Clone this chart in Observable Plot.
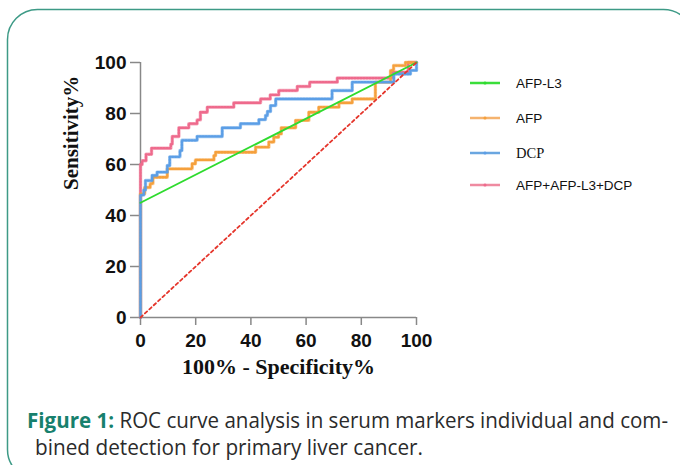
<!DOCTYPE html>
<html><head><meta charset="utf-8">
<script src="https://cdn.jsdelivr.net/npm/d3@7"></script>
<script src="https://cdn.jsdelivr.net/npm/@observablehq/plot@0.6"></script>
<style>
body{margin:0;background:#fff}
#wrap{position:relative;width:680px;height:465px;overflow:hidden;background:#fff}
#chart{position:absolute;left:0;top:0}
#overlay{position:absolute;left:0;top:0;pointer-events:none}
</style>
</head><body>
<div id="wrap"><div id="chart"></div><svg id="overlay" width="680" height="465"></svg></div>
<script>
// ---- data ----
const xTicks = [0, 20, 40, 60, 80, 100];
const yTicks = [0, 20, 40, 60, 80, 100];
const seriesNames = ["AFP-L3", "AFP", "DCP", "AFP+AFP-L3+DCP"];

const afpL3Fpr = [0, 100];
const afpL3Tpr = [45, 100];

const afpFpr = [0, 0, 1.5, 3.5, 4.5, 9.7, 18.7, 19.9, 26.6, 27.2, 41.7, 46.5, 48.3, 50, 51, 56.2, 61, 64.6, 71.9, 76.7, 85.1, 90.6, 91.7, 96, 100];
const afpTpr = [0, 48.5, 51, 52.5, 55, 58.3, 60.3, 61.8, 63.5, 64.8, 66.8, 68.8, 70.7, 72, 74.4, 77.3, 80.5, 82.5, 84.2, 85.7, 92.3, 96.9, 98.8, 100, 100];

const dcpFpr = [0, 0, 1.2, 1.8, 4.2, 6, 9.7, 10.6, 14.3, 15, 20.5, 29.6, 36.2, 42.9, 45.3, 46, 47.1, 49, 69.4, 76.7, 91.8, 97.8, 100];
const dcpTpr = [0, 48, 50, 53.7, 55.7, 57, 59.6, 63, 65.5, 69.5, 71, 74.4, 76, 77.6, 79.2, 80.8, 83.1, 85.7, 89, 92.3, 95.5, 96.9, 100];

const comboFpr = [0, 0, 0.6, 2, 4, 11, 11.5, 13.9, 17.5, 20.5, 21.7, 24.2, 33.8, 43.5, 47, 50.1, 56.8, 61.3, 71.3, 91.2, 97, 100];
const comboTpr = [0, 60, 61.5, 64, 66.4, 68, 71, 74.4, 76, 77.5, 80.5, 82.5, 84.2, 85.7, 87.3, 89, 90.6, 92.3, 93.9, 96.2, 100, 100];

const refFpr = [0, 100];
const refTpr = [0, 100];

const lineColors = ["#2edb2e", "#f5a03c", "#5b9ee6", "#ee6a8c"];
const legendColors = ["#3ade3a", "#f5b36e", "#6aa6e0", "#ef8aa0"];
const legendFonts = ["Liberation Sans", "Liberation Sans", "Liberation Serif", "Liberation Sans"];

const rows = (xs, ys) => xs.map((x, i) => ({fpr: x, tpr: ys[i]}));
const afpL3 = rows(afpL3Fpr, afpL3Tpr);
const afp = rows(afpFpr, afpTpr);
const dcp = rows(dcpFpr, dcpTpr);
const combo = rows(comboFpr, comboTpr);
const ref = rows(refFpr, refTpr);

function beaded(data, color) {
  return [
    Plot.line(data, {x: "fpr", y: "tpr", curve: "step-after", stroke: color, strokeOpacity: 0.55, strokeWidth: 3.4}),
    Plot.line(data, {x: "fpr", y: "tpr", curve: "step-after", stroke: color, strokeWidth: 2.3, strokeDasharray: "1.6,1.4"})
  ];
}

const chart = Plot.plot({
  width: 680,
  height: 395,
  marginLeft: 140,
  marginRight: 264,
  marginTop: 62,
  marginBottom: 78,
  x: {domain: [0, 100]},
  y: {domain: [0, 100]},
  style: {fontFamily: "Liberation Sans", background: "transparent", overflow: "visible"},
  marks: [
    Plot.axisX({ticks: xTicks, tickSize: 8, tickPadding: 8, stroke: "#888", strokeWidth: 1.5, fill: "#111", fontSize: 19, fontWeight: "bold", fontFamily: "Liberation Sans", label: null}),
    Plot.axisY({ticks: yTicks, tickSize: 10, tickPadding: 4, stroke: "#888", strokeWidth: 1.5, fill: "#111", fontSize: 19, fontWeight: "bold", fontFamily: "Liberation Sans", label: null}),
    Plot.ruleX([0], {stroke: "#888", strokeWidth: 1.5}),
    Plot.ruleY([0], {stroke: "#888", strokeWidth: 1.5}),
    ...beaded(combo, lineColors[3]),
    ...beaded(afp, lineColors[1]),
    ...beaded(dcp, lineColors[2]),
    Plot.line(afpL3, {x: "fpr", y: "tpr", stroke: lineColors[0], strokeWidth: 1.9}),
    Plot.line(ref, {x: "fpr", y: "tpr", stroke: "#e5352b", strokeWidth: 1.8, strokeDasharray: "3,3"}),
    Plot.text(["Sensitivity%"], {frameAnchor: "left", dx: -69, rotate: -90, fontFamily: "Liberation Serif", fontWeight: "bold", fontSize: 21, fill: "#111"}),
    Plot.text(["100% - Specificity%"], {frameAnchor: "bottom", dy: 56, fontFamily: "Liberation Serif", fontWeight: "bold", fontSize: 22, fill: "#111"})
  ]
});
document.getElementById("chart").appendChild(chart);

// ---- overlay: frame, legend, caption ----
const ov = d3.select("#overlay");
ov.append("rect").attr("x", 7.5).attr("y", 9.5).attr("width", 686).attr("height", 470)
  .attr("rx", 30).attr("fill", "none").attr("stroke", "#3d9a86").attr("stroke-width", 1.5);

const legendY = [83, 118, 153, 185];
seriesNames.forEach((name, i) => {
  const g = ov.append("g").attr("transform", `translate(0,${legendY[i]})`);
  g.append("line").attr("x1", 470).attr("x2", 500).attr("y1", 0).attr("y2", 0)
    .attr("stroke", legendColors[i]).attr("stroke-width", 2.5);
  g.append("circle").attr("cx", 485).attr("cy", 0).attr("r", 1.6).attr("fill", lineColors[i]);
  g.append("text").attr("x", 516).attr("y", 0).attr("dy", "0.35em")
    .attr("font-family", legendFonts[i]).attr("font-size", legendFonts[i] === "Liberation Serif" ? 14.5 : 13.5)
    .attr("fill", "#111").text(name);
});

const cap1 = ov.append("text").attr("x", 27).attr("y", 428).attr("font-family", "Open Sans")
  .attr("font-size", 21).attr("textLength", 641).attr("lengthAdjust", "spacingAndGlyphs").attr("fill", "#2b2b2b");
cap1.append("tspan").attr("font-weight", "bold").attr("fill", "#17806d").text("Figure 1:");
cap1.append("tspan").text(" ROC curve analysis in serum markers individual and com-");
ov.append("text").attr("x", 35).attr("y", 455).attr("font-family", "Open Sans")
  .attr("font-size", 21).attr("textLength", 388).attr("lengthAdjust", "spacingAndGlyphs").attr("fill", "#2b2b2b")
  .text("bined detection for primary liver cancer.");
</script>
</body></html>
